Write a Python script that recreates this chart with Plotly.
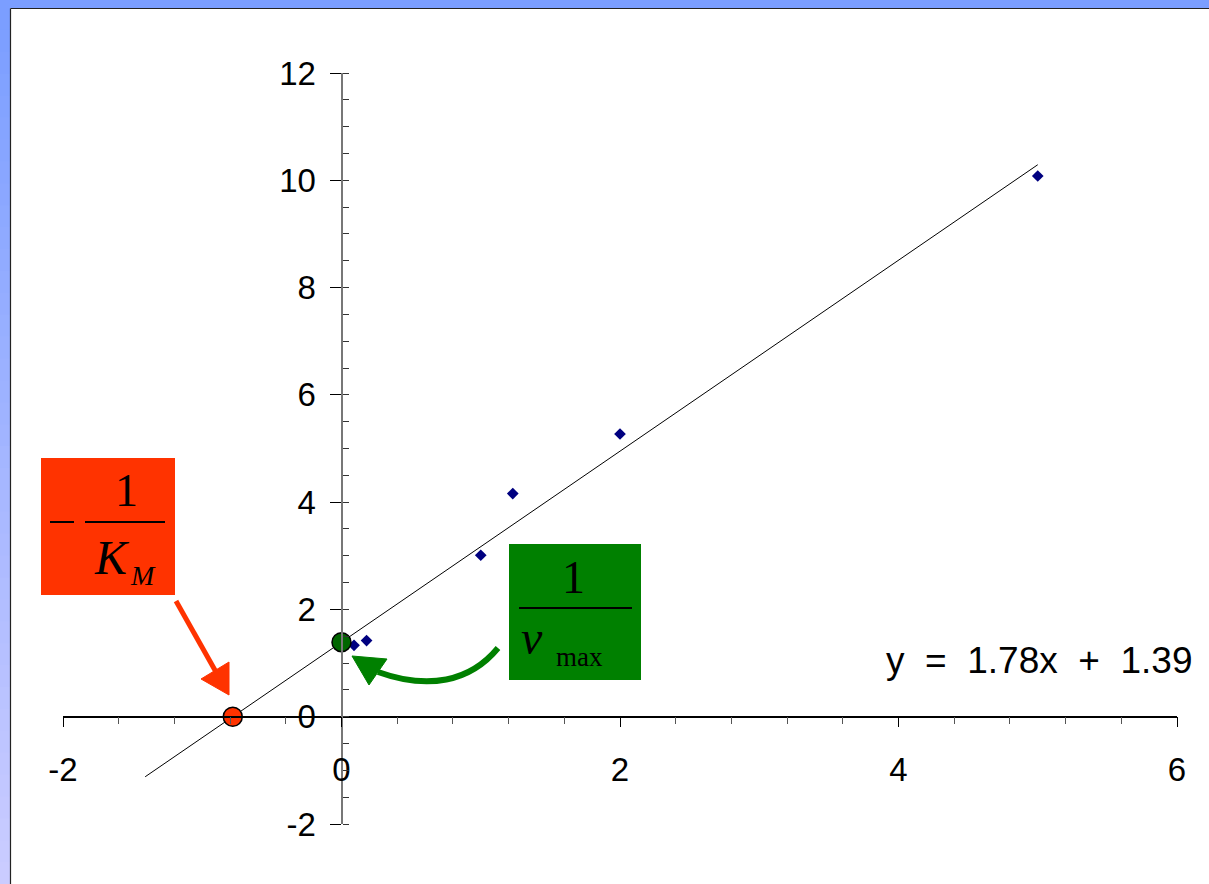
import plotly.graph_objects as go

# ---- data ----
inv_s = [0.09, 0.18, 1.0, 1.23, 2.0, 5.0]          # 1/[S]
inv_v = [1.33, 1.42, 3.01, 4.16, 5.27, 10.08]      # 1/v
slope = 1.78
intercept = 1.39
trend_x = [-1.41, 5.0]
x_ticks = [-2, 0, 2, 4, 6]
y_ticks = [-2, 0, 2, 4, 6, 8, 10, 12]
equation = "y = 1.78x + 1.39"

W, H = 1209, 884
L, R, T, B = 63, 32, 73, 60
PW, PH = W - L - R, H - T - B
TICK_FONT = "Liberation Sans, Arial"


def px(x):
    return (x - L) / PW


def py(y):
    return (H - B - y) / PH


trend_y = [slope * x + intercept for x in trend_x]
x_int = -intercept / slope

fig = go.Figure()
fig.add_trace(go.Scatter(x=trend_x, y=trend_y, mode="lines",
                         line=dict(color="black", width=1), showlegend=False, hoverinfo="skip"))
fig.add_trace(go.Scatter(x=inv_s, y=inv_v, mode="markers",
                         marker=dict(symbol="diamond", size=9, color="#000080"), showlegend=False))
fig.add_trace(go.Scatter(x=[0], y=[intercept], mode="markers",
                         marker=dict(size=19, color="#006600", line=dict(color="black", width=1.5)),
                         showlegend=False))
fig.add_trace(go.Scatter(x=[x_int], y=[0], mode="markers",
                         marker=dict(size=19, color="#FF3300", line=dict(color="black", width=1.5)),
                         showlegend=False))
# helper axis for crossing major y ticks
fig.add_trace(go.Scatter(x=[None], y=[None], yaxis="y2", showlegend=False))

shapes = []
# blue frame
shapes.append(dict(type="rect", xref="paper", yref="paper", x0=px(0), x1=px(W), y0=py(0), y1=py(8),
                   fillcolor="#7B9EFF", line=dict(width=0), layer="below"))
n = 40
c0 = (123, 158, 255)
c1 = (202, 204, 255)
for i in range(n):
    t = i / (n - 1)
    col = tuple(int(round(c0[k] + (c1[k] - c0[k]) * t)) for k in range(3))
    y0 = 8 + (H - 8) * i / n
    y1 = 8 + (H - 8) * (i + 1) / n + 1
    shapes.append(dict(type="rect", xref="paper", yref="paper", x0=px(0), x1=px(10),
                       y0=py(y0), y1=py(y1), fillcolor="rgb(%d,%d,%d)" % col,
                       line=dict(width=0), layer="below"))
shapes.append(dict(type="line", xref="paper", yref="paper", x0=px(10.5), x1=px(W), y0=py(8.5), y1=py(8.5),
                   line=dict(color="#222", width=1.2)))
shapes.append(dict(type="line", xref="paper", yref="paper", x0=px(10.5), x1=px(10.5), y0=py(8.5), y1=py(H),
                   line=dict(color="#222", width=1.2)))

# red box
shapes.append(dict(type="rect", xref="paper", yref="paper", x0=px(41), x1=px(175), y0=py(458), y1=py(595),
                   fillcolor="#FF3300", line=dict(width=0)))
shapes.append(dict(type="line", xref="paper", yref="paper", x0=px(85), x1=px(165), y0=py(522), y1=py(522),
                   line=dict(color="black", width=2)))
shapes.append(dict(type="line", xref="paper", yref="paper", x0=px(50), x1=px(74), y0=py(522), y1=py(522),
                   line=dict(color="black", width=2)))
# green box
shapes.append(dict(type="rect", xref="paper", yref="paper", x0=px(509), x1=px(641), y0=py(544), y1=py(680),
                   fillcolor="#008000", line=dict(width=0)))
shapes.append(dict(type="line", xref="paper", yref="paper", x0=px(519), x1=px(632), y0=py(608), y1=py(608),
                   line=dict(color="black", width=2)))

# red arrow
shapes.append(dict(type="line", xref="paper", yref="paper", x0=px(176), y0=py(601), x1=px(216), y1=py(672),
                   line=dict(color="#FF3300", width=5)))
shapes.append(dict(type="path", xref="paper", yref="paper",
                   path="M %f %f L %f %f L %f %f Z" % (px(229), py(695), px(201), py(679), px(229), py(662)),
                   fillcolor="#FF3300", line=dict(color="#FF3300", width=1)))
# green curved arrow
shapes.append(dict(type="path", xref="paper", yref="paper",
                   path="M %f %f C %f %f %f %f %f %f" % (px(498), py(648), px(470), py(682),
                                                          px(428), py(690), px(378), py(672)),
                   line=dict(color="#008000", width=6)))
shapes.append(dict(type="path", xref="paper", yref="paper",
                   path="M %f %f L %f %f L %f %f Z" % (px(352), py(656), px(387), py(659), px(369), py(685)),
                   fillcolor="#008000", line=dict(color="#008000", width=1)))

annotations = [
    dict(xref="paper", yref="paper", x=px(126), y=py(490), text="1", showarrow=False,
         font=dict(family="Liberation Serif", size=46, color="black"), xanchor="center", yanchor="middle"),
    dict(xref="paper", yref="paper", x=px(92), y=py(557), text="<i>K</i>", showarrow=False,
         font=dict(family="Liberation Serif", size=48, color="black"), xanchor="left", yanchor="middle"),
    dict(xref="paper", yref="paper", x=px(128), y=py(575), text="<i>M</i>", showarrow=False,
         font=dict(family="Liberation Serif", size=28, color="black"), xanchor="left", yanchor="middle"),
    dict(xref="paper", yref="paper", x=px(573), y=py(577), text="1", showarrow=False,
         font=dict(family="Liberation Serif", size=46, color="black"), xanchor="center", yanchor="middle"),
    dict(xref="paper", yref="paper", x=px(519), y=py(637), text="<i>v</i>", showarrow=False,
         font=dict(family="Liberation Serif", size=48, color="black"), xanchor="left", yanchor="middle"),
    dict(xref="paper", yref="paper", x=px(554), y=py(657), text="max", showarrow=False,
         font=dict(family="Liberation Serif", size=27, color="black"), xanchor="left", yanchor="middle"),
    dict(xref="paper", yref="paper", x=px(1194), y=py(660), text=equation.replace(" ", "\u00a0\u00a0"),
         showarrow=False, font=dict(family="Liberation Sans", size=37, color="black"),
         xanchor="right", yanchor="middle"),
]

fig.update_layout(
    width=W, height=H,
    margin=dict(l=L, r=R, t=T, b=B),
    paper_bgcolor="white", plot_bgcolor="white",
    showlegend=False,
    font=dict(family=TICK_FONT, size=33, color="black"),
    xaxis=dict(range=[-2, 6], tickvals=x_ticks, ticktext=[str(v) for v in x_ticks],
               showgrid=False, zeroline=False,
               showline=True, linecolor="black", linewidth=1.5,
               anchor="free", position=2 / 14,
               ticks="outside", ticklen=10, tickwidth=1.2, tickcolor="black",
               minor=dict(dtick=0.4, tick0=-2, ticks="outside", ticklen=7, tickcolor="#555", tickwidth=1.2,
                          showgrid=False),
               ticklabelstandoff=14, tickfont=dict(family=TICK_FONT, size=33)),
    yaxis=dict(range=[-2, 12], tickvals=y_ticks, ticktext=[str(v) for v in y_ticks],
               showgrid=False, zeroline=False,
               showline=True, linecolor="#777", linewidth=2,
               anchor="free", position=2 / 8,
               ticks="outside", ticklen=11, tickwidth=1.2, tickcolor="black",
               minor=dict(dtick=0.5, tick0=0, ticks="inside", ticklen=6, tickcolor="#333", tickwidth=1.2,
                          showgrid=False),
               ticklabelstandoff=7, tickfont=dict(family=TICK_FONT, size=33)),
    yaxis2=dict(range=[-2, 12], overlaying="y", anchor="free", position=2 / 8, side="left",
                tickvals=y_ticks, ticks="inside", ticklen=6, tickwidth=1.2, tickcolor="#333",
                showticklabels=False, showgrid=False, zeroline=False, showline=False),
    shapes=shapes,
    annotations=annotations,
)

fig.write_html("out.html", config={"displayModeBar": False},
               post_script="document.body.style.margin='0';document.body.style.padding='0';")
